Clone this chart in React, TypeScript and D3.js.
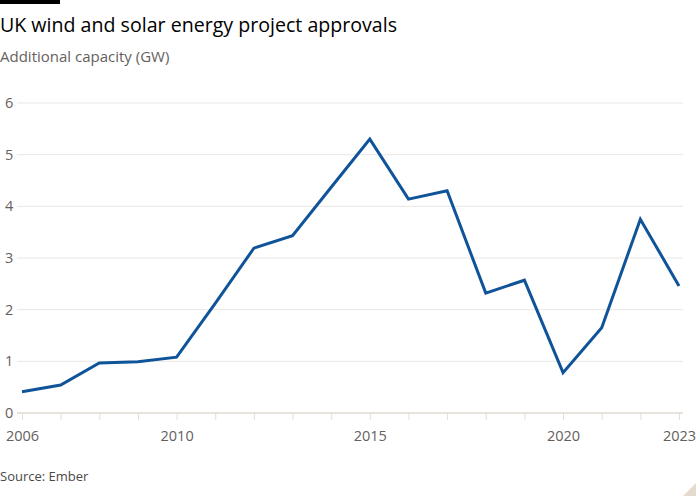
import { useEffect, useRef } from 'react';
import * as d3 from 'd3';

const years = [2006, 2007, 2008, 2009, 2010, 2011, 2012, 2013, 2014, 2015, 2016, 2017, 2018, 2019, 2020, 2021, 2022, 2023];
const capacity = [0.41, 0.54, 0.97, 0.99, 1.08, 2.12, 3.19, 3.43, 4.37, 5.3, 4.14, 4.3, 2.32, 2.57, 0.78, 1.65, 3.75, 2.46];
const yTicks = [0, 1, 2, 3, 4, 5, 6];
const xLabels = [2006, 2010, 2015, 2020, 2023];

const FONT = "'Open Sans', 'Noto Sans', sans-serif";

export default function App() {
  const svgRef = useRef<SVGSVGElement>(null);

  useEffect(() => {
    if (!svgRef.current) return;
    const width = 700;
    const height = 500;
    const margin = { top: 103, right: 21, bottom: 87, left: 22 };

    d3.select(svgRef.current).selectAll('*').remove();
    const svg = d3.select(svgRef.current).attr('width', width).attr('height', height);

    svg.append('rect').attr('width', width).attr('height', height).attr('fill', '#ffffff');

    const x = d3.scaleLinear().domain([2006, 2023]).range([margin.left, width - margin.right]);
    const y = d3.scaleLinear().domain([0, 6]).range([height - margin.bottom, margin.top]);

    // Top black bar
    svg.append('rect').attr('x', 0).attr('y', 0).attr('width', 60).attr('height', 4).attr('fill', '#000');

    // Titles
    svg.append('text')
      .attr('x', 0).attr('y', 32)
      .style('font-family', FONT).style('font-size', '19.6px').style('fill', '#000')
      .text('UK wind and solar energy project approvals');
    svg.append('text')
      .attr('x', 0).attr('y', 62)
      .style('font-family', FONT).style('font-size', '15px').style('fill', '#66605c')
      .text('Additional capacity (GW)');

    // Gridlines
    svg.append('g')
      .selectAll('line')
      .data(yTicks.filter((d) => d > 0))
      .enter()
      .append('line')
      .attr('x1', 17).attr('x2', width - 17)
      .attr('y1', (d) => y(d)).attr('y2', (d) => y(d))
      .attr('stroke', '#ebe7e3').attr('stroke-width', 1);

    // Y labels
    svg.append('g')
      .selectAll('text')
      .data(yTicks)
      .enter()
      .append('text')
      .attr('x', 5)
      .attr('y', (d) => y(d))
      .attr('dy', '0.35em')
      .style('font-family', FONT).style('font-size', '14.5px').style('fill', '#66605c')
      .text((d) => d);

    // X axis
    const xAxis = svg.append('g')
      .attr('transform', `translate(0, ${y(0)})`)
      .call(d3.axisBottom(x).tickValues(years).tickSize(7).tickFormat((d) => (xLabels.includes(d as number) ? String(d) : '')));
    xAxis.select('.domain').attr('d', `M17,0H${width - 17}`).attr('stroke', '#e9e3de').attr('stroke-width', 2);
    xAxis.selectAll('.tick line').attr('stroke', '#e4ddd6');
    xAxis.selectAll('.tick text')
      .attr('y', 18)
      .style('font-family', FONT).style('font-size', '14.5px').style('fill', '#66605c');

    // Line
    const line = d3.line<number>()
      .x((_, i) => x(years[i]))
      .y((d) => y(d));
    svg.append('path')
      .datum(capacity)
      .attr('d', line)
      .attr('fill', 'none')
      .attr('stroke', '#0f5499')
      .attr('stroke-width', 3)
      .attr('stroke-linejoin', 'miter');

    // Source
    svg.append('text')
      .attr('x', 0).attr('y', 481)
      .style('font-family', FONT).style('font-size', '13px').style('fill', '#4d4845')
      .text('Source: Ember');

    // Corner fold
    svg.append('path')
      .attr('d', `M${width - 4},${height - 17}L${width - 4},${height - 4}L${width - 17},${height - 4}Z`)
      .attr('fill', '#e6d9ce');
  }, []);

  return (
    <div style={{ position: 'absolute', left: 0, top: 0 }}>
      <svg ref={svgRef} style={{ display: 'block' }} />
    </div>
  );
}
